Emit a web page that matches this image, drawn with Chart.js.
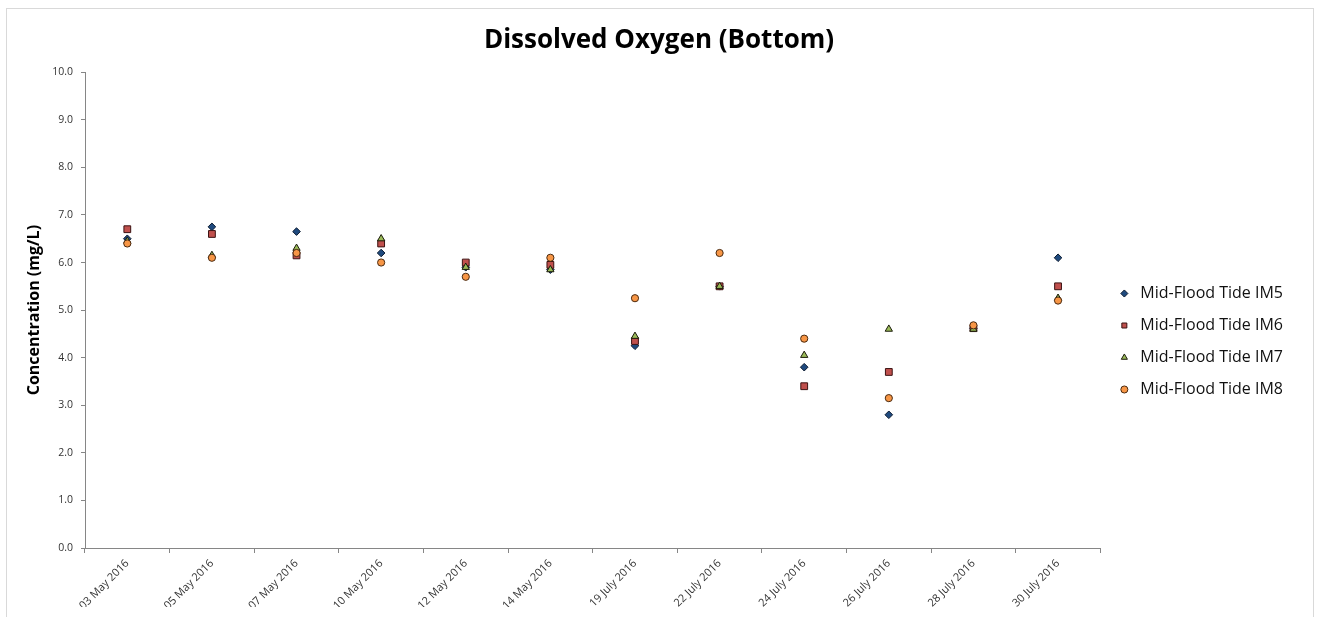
<!DOCTYPE html>
<html>
<head>
<meta charset="utf-8">
<script src="https://cdn.jsdelivr.net/npm/chart.js@4"></script>
<style>
  body { margin: 0; background: #fff; }
  .frame { position: absolute; left: 6px; top: 8px; width: 1306px; height: 640px; border: 1px solid #d9d9d9; }
  .wrap { position: absolute; left: 0; top: 0; width: 1318px; height: 617px; }
</style>
</head>
<body>
<div class="frame"></div>
<div class="wrap"><canvas id="do-chart" width="1318" height="617"></canvas></div>
<script>
const dates = ["03 May 2016", "05 May 2016", "07 May 2016", "10 May 2016", "12 May 2016", "14 May 2016",
  "19 July 2016", "22 July 2016", "24 July 2016", "26 July 2016", "28 July 2016", "30 July 2016"];
const im5 = [6.5, 6.75, 6.65, 6.2, 5.9, 5.85, 4.25, 5.5, 3.8, 2.8, 4.62, 6.1];
const im6 = [6.7, 6.6, 6.15, 6.4, 6.0, 5.95, 4.35, 5.5, 3.4, 3.7, 4.62, 5.5];
const im7 = [6.45, 6.15, 6.3, 6.5, 5.9, 5.85, 4.45, 5.5, 4.05, 4.6, 4.6, 5.25];
const im8 = [6.4, 6.1, 6.2, 6.0, 5.7, 6.1, 5.25, 6.2, 4.4, 3.15, 4.68, 5.2];

const axisGrey = "#868686";
const font = "'Open Sans', 'Liberation Sans', sans-serif";

const series = (label, data, style, fill, border, radius, order) => ({
  label: label,
  data: data,
  showLine: false,
  pointStyle: style,
  pointRadius: radius,
  pointHoverRadius: radius,
  pointBackgroundColor: fill,
  pointBorderColor: border,
  pointBorderWidth: 1,
  backgroundColor: fill,
  borderColor: border,
  borderWidth: 1,
  order: order,
});

new Chart(document.getElementById("do-chart"), {
  type: "line",
  data: {
    labels: dates,
    datasets: [
      series("Mid-Flood Tide IM5", im5, "rectRot", "#1f4a7e", "#0b1a30", 3.8, 4),
      series("Mid-Flood Tide IM6", im6, "rect", "#c0504d", "#3b1212", 4.8, 3),
      series("Mid-Flood Tide IM7", im7, "triangle", "#9bbb59", "#1a1a0a", 4.2, 2),
      series("Mid-Flood Tide IM8", im8, "circle", "#f79646", "#4a2a10", 3.6, 1),
    ],
  },
  options: {
    responsive: false,
    animation: false,
    // left padding mirrors the right one so the title stays centred on the page
    layout: { padding: { top: 8, left: 25, right: 25, bottom: 10 } },
    scales: {
      x: {
        offset: true,
        grid: { display: true, offset: true, drawOnChartArea: false, tickLength: 5, color: axisGrey },
        border: { color: axisGrey },
        ticks: {
          autoSkip: false, minRotation: 45, maxRotation: 45,
          color: "#333", font: { family: font, size: 11 }, padding: 4,
        },
        afterFit: (scale) => { scale.height = 59; },
      },
      y: {
        min: 0,
        max: 10,
        grid: { display: true, drawOnChartArea: false, tickLength: 4, color: axisGrey },
        border: { color: axisGrey },
        ticks: {
          stepSize: 1, color: "#333", font: { family: font, size: 10.5 }, padding: 8,
          callback: (v) => Number(v).toFixed(1),
        },
        title: {
          display: true, text: "Concentration (mg/L)", color: "#000",
          font: { family: font, size: 16, weight: "bold" }, padding: { top: 0, bottom: 0 },
        },
        afterFit: (scale) => { scale.width = 60; },
      },
    },
    plugins: {
      title: {
        display: true,
        text: "Dissolved Oxygen (Bottom)",
        color: "#000",
        font: { family: font, size: 26, weight: "bold" },
        padding: { top: 17, bottom: 16 },
      },
      legend: {
        position: "right",
        title: { display: true, text: "", font: { size: 10 }, padding: { top: 56, bottom: 0 } },
        labels: {
          usePointStyle: true,
          boxWidth: 16,
          boxHeight: 5,
          padding: 16,
          color: "#111",
          font: { family: font, size: 16 },
          sort: (a, b) => a.datasetIndex - b.datasetIndex,
        },
      },
      tooltip: { enabled: false },
    },
  },
});
</script>
</body>
</html>
